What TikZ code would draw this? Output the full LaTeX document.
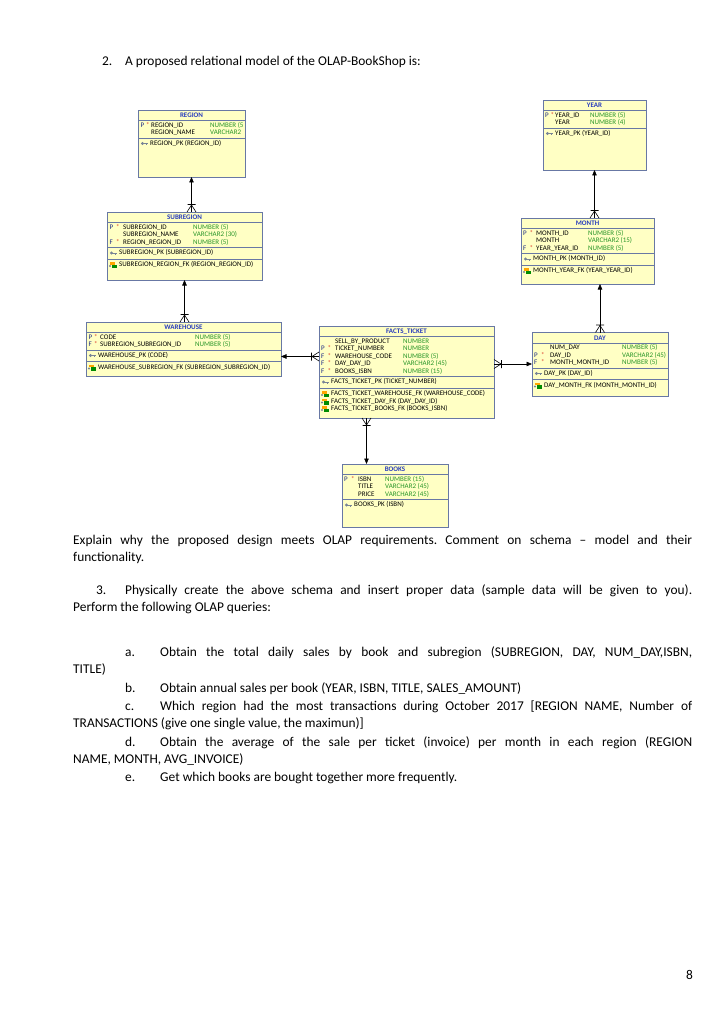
\documentclass[tikz,border=0pt]{standalone}
\usepackage{fontspec}
\setmainfont{Carlito}
\usepackage{tikz}
\usetikzlibrary{arrows.meta, calc}
\definecolor{erFill}{RGB}{255,255,196}
\definecolor{erBorder}{RGB}{104,120,164}
\definecolor{erTitle}{RGB}{40,60,190}
\definecolor{erType}{RGB}{40,150,40}
\definecolor{erStar}{RGB}{220,60,40}
\definecolor{erKey}{RGB}{120,132,150}
\newcommand{\erfont}{\fontsize{7}{8}\selectfont}
\newcommand{\bodyfont}{\fontsize{13.4}{17}\selectfont}
\frenchspacing

\begin{document}
\begin{tikzpicture}[x=1pt, y=-1pt,
  erbox/.style={draw=erBorder, fill=erFill, line width=0.7pt, anchor=north west,
                inner sep=0pt, outer sep=0pt},
  ertitle/.style={font=\erfont\bfseries, text=erTitle, inner sep=0pt},
  col/.style={font=\erfont, anchor=west, inner sep=0pt, text height=4.8pt, text depth=1.4pt},
  dtype/.style={col, text=erType},
  pf/.style={col, text=erTitle!70!black},
  ast/.style={col, text=erStar},
  sepline/.style={erBorder, line width=0.5pt},
  rel/.style={line width=0.6pt, -{Triangle[length=5.5pt, width=4.5pt]}},
  body/.style={anchor=base west, inner sep=0pt, font=\bodyfont},
  para/.style={body, text width=619pt, align=justify},
  crowfoot/.pic={\draw[line width=0.6pt] (0pt,-4.5pt) -- (7pt,0pt) -- (0pt,4.5pt)
                   (7.5pt,-4pt) -- (7.5pt,4pt);},
  pkkey/.pic={\fill[erKey] (1.5pt,0pt) circle (1.6pt);
              \draw[erKey, line width=1pt] (1.5pt,0pt) -- (7pt,0pt);
              \draw[erKey, line width=0.7pt] (5.5pt,0pt) -- (5.5pt,-1.6pt);},
  fkkey/.pic={\fill[orange!70!yellow] (0pt,0.3pt) rectangle (5pt,3pt);
              \fill[green!55!black] (1.5pt,-3pt) rectangle (7pt,0.3pt);
              \fill[erKey] (0pt,-1pt) circle (1.2pt);},
]
  \path[fill=white] (0,0) rectangle (724,1024);

  \node[body] (head) at (102,66) {\makebox[23pt][l]{2.}A proposed relational model of the OLAP-BookShop is:};

  % REGION
  \node[erbox, minimum width=107pt, minimum height=67pt] (region) at (138,110) {};
  \node[ertitle] (rgt) at (191.5,115.5) {REGION};
  \draw[sepline] (138,120.5) -- (245,120.5);
  \node[pf] (rgp1) at (140.5,125.5) {P};
  \node[ast] (rga1) at (146,125.5) {*};
  \node[col] (rgn1) at (151,125.5) {REGION\_ID};
  \node[dtype] (rgd1) at (210,125.5) {NUMBER (5};
  \node[col] (rgn2) at (151,133) {REGION\_NAME};
  \node[dtype] (rgd2) at (210,133) {VARCHAR2};
  \draw[sepline] (138,138) -- (245,138);
  \pic at (141,143.5) {pkkey};
  \node[col] (rgpk) at (150,143.5) {REGION\_PK (REGION\_ID)};

  % SUBREGION
  \node[erbox, minimum width=155pt, minimum height=68pt] (subregion) at (107,212) {};
  \node[ertitle] (sbt) at (184.5,217.5) {SUBREGION};
  \draw[sepline] (107,222.5) -- (262,222.5);
  \node[pf] (sbp1) at (109.5,227.5) {P};
  \node[ast] (sba1) at (116,227.5) {*};
  \node[col] (sbn1) at (123,227.5) {SUBREGION\_ID};
  \node[dtype] (sbd1) at (193,227.5) {NUMBER (5)};
  \node[col] (sbn2) at (123,235) {SUBREGION\_NAME};
  \node[dtype] (sbd2) at (193,235) {VARCHAR2 (30)};
  \node[pf] (sbp3) at (109.5,242.5) {F};
  \node[ast] (sba3) at (116,242.5) {*};
  \node[col] (sbn3) at (123,242.5) {REGION\_REGION\_ID};
  \node[dtype] (sbd3) at (193,242.5) {NUMBER (5)};
  \draw[sepline] (107,247.5) -- (262,247.5);
  \pic at (110,253) {pkkey};
  \node[col] (sbpk) at (119,253) {SUBREGION\_PK (SUBREGION\_ID)};
  \draw[sepline] (107,259) -- (262,259);
  \pic at (110,265) {fkkey};
  \node[col] (sbfk) at (119,265) {SUBREGION\_REGION\_FK (REGION\_REGION\_ID)};

  % WAREHOUSE
  \node[erbox, minimum width=195pt, minimum height=54pt] (warehouse) at (86,322) {};
  \node[ertitle] (wht) at (183.5,327.5) {WAREHOUSE};
  \draw[sepline] (86,332.5) -- (281,332.5);
  \node[pf] (whp1) at (88.5,337.5) {P};
  \node[ast] (wha1) at (94,337.5) {*};
  \node[col] (whn1) at (100,337.5) {CODE};
  \node[dtype] (whd1) at (195,337.5) {NUMBER (5)};
  \node[pf] (whp2) at (88.5,345) {F};
  \node[ast] (wha2) at (94,345) {*};
  \node[col] (whn2) at (100,345) {SUBREGION\_SUBREGION\_ID};
  \node[dtype] (whd2) at (195,345) {NUMBER (5)};
  \draw[sepline] (86,350) -- (281,350);
  \pic at (89,355.5) {pkkey};
  \node[col] (whpk) at (98,355.5) {WAREHOUSE\_PK (CODE)};
  \draw[sepline] (86,361.5) -- (281,361.5);
  \pic at (89,367.5) {fkkey};
  \node[col] (whfk) at (98,367.5) {WAREHOUSE\_SUBREGION\_FK (SUBREGION\_SUBREGION\_ID)};

  % FACTS_TICKET
  \node[erbox, minimum width=175pt, minimum height=92pt] (facts) at (319,326) {};
  \node[ertitle] (ftt) at (406.5,331.5) {FACTS\_TICKET};
  \draw[sepline] (319,336.5) -- (494,336.5);
  \node[col] (ftn1) at (335,341.5) {SELL\_BY\_PRODUCT};
  \node[dtype] (ftd1) at (403,341.5) {NUMBER};
  \node[pf] (ftp2) at (321,349) {P};
  \node[ast] (fta2) at (327.5,349) {*};
  \node[col] (ftn2) at (335,349) {TICKET\_NUMBER};
  \node[dtype] (ftd2) at (403,349) {NUMBER};
  \node[pf] (ftp3) at (321,356.5) {F};
  \node[ast] (fta3) at (327.5,356.5) {*};
  \node[col] (ftwh) at (335,356.5) {WAREHOUSE\_CODE};
  \node[dtype] (ftd3) at (403,356.5) {NUMBER (5)};
  \node[pf] (ftp4) at (321,364) {F};
  \node[ast] (fta4) at (327.5,364) {*};
  \node[col] (ftday) at (335,364) {DAY\_DAY\_ID};
  \node[dtype] (ftd4) at (403,364) {VARCHAR2 (45)};
  \node[pf] (ftp5) at (321,371.5) {F};
  \node[ast] (fta5) at (327.5,371.5) {*};
  \node[col] (ftbk) at (335,371.5) {BOOKS\_ISBN};
  \node[dtype] (ftd5) at (403,371.5) {NUMBER (15)};
  \draw[sepline] (319,376.5) -- (494,376.5);
  \pic at (322,382) {pkkey};
  \node[col] (ftpk) at (331,382) {FACTS\_TICKET\_PK (TICKET\_NUMBER)};
  \draw[sepline] (319,388) -- (494,388);
  \pic at (322,394) {fkkey};
  \node[col] (ftfk1) at (331,394) {FACTS\_TICKET\_WAREHOUSE\_FK (WAREHOUSE\_CODE)};
  \pic at (322,401.5) {fkkey};
  \node[col] (ftfk2) at (331,401.5) {FACTS\_TICKET\_DAY\_FK (DAY\_DAY\_ID)};
  \pic at (322,409) {fkkey};
  \node[col] (ftfk3) at (331,409) {FACTS\_TICKET\_BOOKS\_FK (BOOKS\_ISBN)};

  % YEAR
  \node[erbox, minimum width=103pt, minimum height=70pt] (year) at (543,100) {};
  \node[ertitle] (yrt) at (594.5,105.5) {YEAR};
  \draw[sepline] (543,110.5) -- (646,110.5);
  \node[pf] (yrp1) at (545,115.5) {P};
  \node[ast] (yra1) at (550.5,115.5) {*};
  \node[col] (yrn1) at (555,115.5) {YEAR\_ID};
  \node[dtype] (yrd1) at (590,115.5) {NUMBER (5)};
  \node[col] (yrn2) at (555,123) {YEAR};
  \node[dtype] (yrd2) at (590,123) {NUMBER (4)};
  \draw[sepline] (543,128) -- (646,128);
  \pic at (546,133.5) {pkkey};
  \node[col] (yrpk) at (555,133.5) {YEAR\_PK (YEAR\_ID)};

  % MONTH
  \node[erbox, minimum width=133pt, minimum height=66pt] (month) at (521,218) {};
  \node[ertitle] (mot) at (587.5,223.5) {MONTH};
  \draw[sepline] (521,228.5) -- (654,228.5);
  \node[pf] (mop1) at (523,233.5) {P};
  \node[ast] (moa1) at (529.5,233.5) {*};
  \node[col] (mon1) at (536,233.5) {MONTH\_ID};
  \node[dtype] (mod1) at (588,233.5) {NUMBER (5)};
  \node[col] (mon2) at (536,241) {MONTH};
  \node[dtype] (mod2) at (588,241) {VARCHAR2 (15)};
  \node[pf] (mop3) at (523,248.5) {F};
  \node[ast] (moa3) at (529.5,248.5) {*};
  \node[col] (mon3) at (536,248.5) {YEAR\_YEAR\_ID};
  \node[dtype] (mod3) at (588,248.5) {NUMBER (5)};
  \draw[sepline] (521,253.5) -- (654,253.5);
  \pic at (524,259) {pkkey};
  \node[col] (mopk) at (533,259) {MONTH\_PK (MONTH\_ID)};
  \draw[sepline] (521,265) -- (654,265);
  \pic at (524,271) {fkkey};
  \node[col] (mofk) at (533,271) {MONTH\_YEAR\_FK (YEAR\_YEAR\_ID)};

  % DAY
  \node[erbox, minimum width=136pt, minimum height=63.5pt] (day) at (532,332.5) {};
  \node[ertitle] (dyt) at (600,338) {DAY};
  \draw[sepline] (532,343) -- (668,343);
  \node[col] (dyn1) at (550,348) {NUM\_DAY};
  \node[dtype] (dyd1) at (622,348) {NUMBER (5)};
  \node[pf] (dyp2) at (534,355.5) {P};
  \node[ast] (dya2) at (541,355.5) {*};
  \node[col] (dyn2) at (550,355.5) {DAY\_ID};
  \node[dtype] (dyd2) at (622,355.5) {VARCHAR2 (45)};
  \node[pf] (dyp3) at (534,363) {F};
  \node[ast] (dya3) at (541,363) {*};
  \node[col] (dyn3) at (550,363) {MONTH\_MONTH\_ID};
  \node[dtype] (dyd3) at (622,363) {NUMBER (5)};
  \draw[sepline] (532,368) -- (668,368);
  \pic at (535,373.5) {pkkey};
  \node[col] (dypk) at (544,373.5) {DAY\_PK (DAY\_ID)};
  \draw[sepline] (532,379.5) -- (668,379.5);
  \pic at (535,385.5) {fkkey};
  \node[col] (dyfk) at (544,385.5) {DAY\_MONTH\_FK (MONTH\_MONTH\_ID)};

  % BOOKS
  \node[erbox, minimum width=106pt, minimum height=63pt] (books) at (342,464) {};
  \node[ertitle] (bkt) at (395,469.5) {BOOKS};
  \draw[sepline] (342,474.5) -- (448,474.5);
  \node[pf] (bkp1) at (344,479.5) {P};
  \node[ast] (bka1) at (351,479.5) {*};
  \node[col] (bkn1) at (358,479.5) {ISBN};
  \node[dtype] (bkd1) at (385,479.5) {NUMBER (15)};
  \node[col] (bkn2) at (358,487) {TITLE};
  \node[dtype] (bkd2) at (385,487) {VARCHAR2 (45)};
  \node[col] (bkn3) at (358,494.5) {PRICE};
  \node[dtype] (bkd3) at (385,494.5) {VARCHAR2 (45)};
  \draw[sepline] (342,499.5) -- (448,499.5);
  \pic at (345,505) {pkkey};
  \node[col] (bkpk) at (354,505) {BOOKS\_PK (ISBN)};

  % relations
  \draw[rel] (subregion.north -| region.south) -- (region.south);
  \pic[rotate=90] at (subregion.north -| region.south) {crowfoot};
  \draw[rel] (warehouse.north -| subregion.south) -- (subregion.south);
  \pic[rotate=90] at (warehouse.north -| subregion.south) {crowfoot};
  \draw[rel] (facts.west |- ftwh) -- (warehouse.east |- ftwh);
  \pic[rotate=180] at (facts.west |- ftwh) {crowfoot};
  \draw[rel] (facts.east |- ftday) -- (day.west |- ftday);
  \pic at (facts.east |- ftday) {crowfoot};
  \draw[rel] ([xshift=-40pt]facts.south) -- ([xshift=-40pt]facts.south |- books.north);
  \pic[rotate=-90] at ([xshift=-40pt]facts.south) {crowfoot};
  \draw[rel] (month.north -| year.south) -- (year.south);
  \pic[rotate=90] at (month.north -| year.south) {crowfoot};
  \draw[rel] (day.north) -- (day.north |- month.south);
  \pic[rotate=90] at (day.north) {crowfoot};

  % questions
  \node[para] (expl) at (73,544) {Explain why the proposed design meets OLAP requirements. Comment on schema -- model and their\linebreak functionality.};
  \node[para] (q3) at (73,594) {\hspace*{23pt}\makebox[29pt][l]{3.}Physically create the above schema and insert proper data (sample data will be given to you).\linebreak Perform the following OLAP queries:};
  \node[para] (qa) at (73,656) {\hspace*{52pt}\makebox[35pt][l]{a.}Obtain the total daily sales by book and subregion (SUBREGION, DAY, NUM\_DAY,ISBN,\linebreak TITLE)};
  \node[para] (qb) at (73,692) {\hspace*{52pt}\makebox[35pt][l]{b.}Obtain annual sales per book (YEAR, ISBN, TITLE, SALES\_AMOUNT)};
  \node[para] (qc) at (73,710) {\hspace*{52pt}\makebox[35pt][l]{c.}Which region had the most transactions during October 2017 [REGION NAME, Number of\linebreak TRANSACTIONS (give one single value, the maximun)]};
  \node[para] (qd) at (73,746) {\hspace*{52pt}\makebox[35pt][l]{d.}Obtain the average of the sale per ticket (invoice) per month in each region (REGION\linebreak NAME, MONTH, AVG\_INVOICE)};
  \node[para] (qe) at (73,781) {\hspace*{52pt}\makebox[35pt][l]{e.}Get which books are bought together more frequently.};
  \node[body] (pg) at (686,979) {8};
\end{tikzpicture}
\end{document}
